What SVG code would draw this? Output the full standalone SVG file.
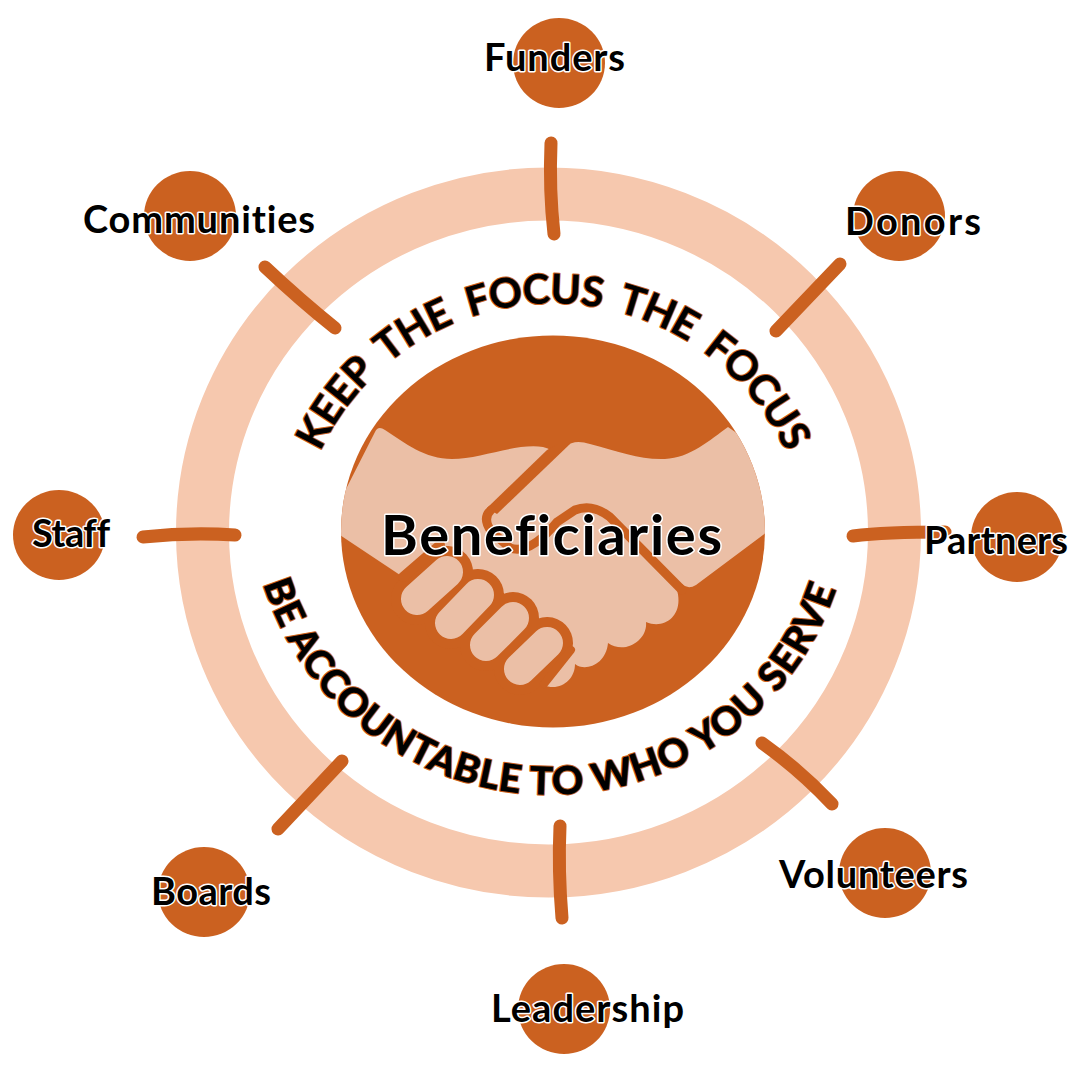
<svg xmlns="http://www.w3.org/2000/svg" width="1080" height="1080" viewBox="0 0 1080 1080">
<style>
.o{fill:#CB6120}
.c{fill:none;stroke:#CB6120;stroke-width:13;stroke-linecap:round}
.l{font-family:"Lato","Liberation Sans",sans-serif;font-weight:700;font-size:38px;font-variant-ligatures:none;fill:#000;stroke:#fff;stroke-width:3px;paint-order:stroke;stroke-linejoin:round}
.a{font-family:"Lato","Liberation Sans",sans-serif;font-weight:900;fill:#000;stroke:#CB6120;stroke-width:2px;paint-order:stroke;stroke-linejoin:round}
.h{fill:none;stroke-linecap:round}
</style>
<defs>
<clipPath id="cc"><ellipse cx="553" cy="531.5" rx="212" ry="196"/></clipPath>
<path id="p1" d="M320,452 A257,257 0 0 1 786,452"/>
<path id="p2" d="M263,584 A301.500,301.500 0 0 0 838,584"/>
</defs>
<ellipse cx="548.5" cy="532.500" rx="346" ry="338.500" fill="none" stroke="#F6C8AE" stroke-width="53"/>
<g id="connectors">
<path class="c" d="M551,143 Q549,190 554,234"/>
<path class="c" d="M840,264 L776,331"/>
<path class="c" d="M853,536 Q885,532 945,532"/>
<path class="c" d="M762,743 Q800,770 832,804"/>
<path class="c" d="M560,826 Q558,870 562,918"/>
<path class="c" d="M342,761 L278,829"/>
<path class="c" d="M143,537 Q190,532 235,535"/>
<path class="c" d="M265,267 Q300,300 335,328"/>
</g>
<g id="center">
<ellipse class="o" cx="553" cy="531.500" rx="212" ry="196"/>
<g clip-path="url(#cc)">
<path fill="#EBBFA6" d="M375,432 Q378,425 385,430 C405,443 425,459 452,459 C480,459 515,443 543,447 Q548,448 552,451 L565,447 C572,441 580,441 590,444 C620,452 640,460 665,459 C690,458 710,440 728,427 L790,470 L790,515 L696,585 Q688,590 682,584 L677,590 C684,615 665,630 646,622 C648,640 625,655 608,643 C606,665 585,672 575,664 C575,680 560,692 543,685 L470,610 L403,577 L325,525 L325,500 L347,487 Z"/>
<path class="o" d="M547,450 L487,508 L497,514 L570,444 L558,444 Z"/>
<g class="h">
<path stroke="#CB6120" stroke-width="9" d="M491,510 Q482,518 491,531 L510,548 Q530,555 557,522 L575,510 Q592,503 610,517 L682,590"/>
<path stroke="#CB6120" stroke-width="52" d="M417,599 L447,572 M451,623 L478,595 M486,645 L513,618 M520,669 L547,643"/>
<path stroke="#CB6120" stroke-width="10" d="M403,577 L440,545"/>
<path stroke="#EBBFA6" stroke-width="32" d="M417,599 L447,572 M451,623 L478,595 M486,645 L513,618 M520,669 L547,643"/>
<path stroke="#CB6120" stroke-width="8" d="M571,650 L544,684"/>
</g>
</g>
<text x="381" y="555" textLength="341" class="l" style="font-size:56px">Beneficiaries</text>
</g>
<g id="arc-top"><text class="a" font-size="41" style="font-weight:700;word-spacing:8px"><textPath href="#p1" textLength="584">KEEP THE FOCUS THE FOCUS</textPath></text></g>
<g id="arc-bottom"><text class="a" font-size="39"><textPath href="#p2" textLength="757">BE ACCOUNTABLE TO WHO YOU SERVE</textPath></text></g>
<g id="funders"><ellipse class="o" cx="559" cy="63" rx="46" ry="45"/><text x="484" y="71" textLength="141" class="l">Funders</text></g>
<g id="donors"><ellipse class="o" cx="899" cy="216" rx="46" ry="45"/><text x="845" y="235" textLength="136" class="l">Donors</text></g>
<g id="partners"><ellipse class="o" cx="1017" cy="537" rx="46" ry="45"/><text x="924" y="554" textLength="144" class="l">Partners</text></g>
<g id="volunteers"><ellipse class="o" cx="885" cy="873" rx="46" ry="45"/><text x="779" y="888" textLength="189" class="l">Volunteers</text></g>
<g id="leadership"><ellipse class="o" cx="564" cy="1009" rx="46" ry="45"/><text x="491" y="1022" textLength="193" class="l">Leadership</text></g>
<g id="boards"><ellipse class="o" cx="204" cy="892" rx="46" ry="45"/><text x="151" y="905" textLength="120" class="l">Boards</text></g>
<g id="staff"><ellipse class="o" cx="59" cy="535" rx="46" ry="45"/><text x="32" y="547" textLength="78" class="l">Staff</text></g>
<g id="communities"><ellipse class="o" cx="190" cy="216" rx="46" ry="45"/><text x="83" y="233" textLength="232" class="l">Communities</text></g>
</svg>
